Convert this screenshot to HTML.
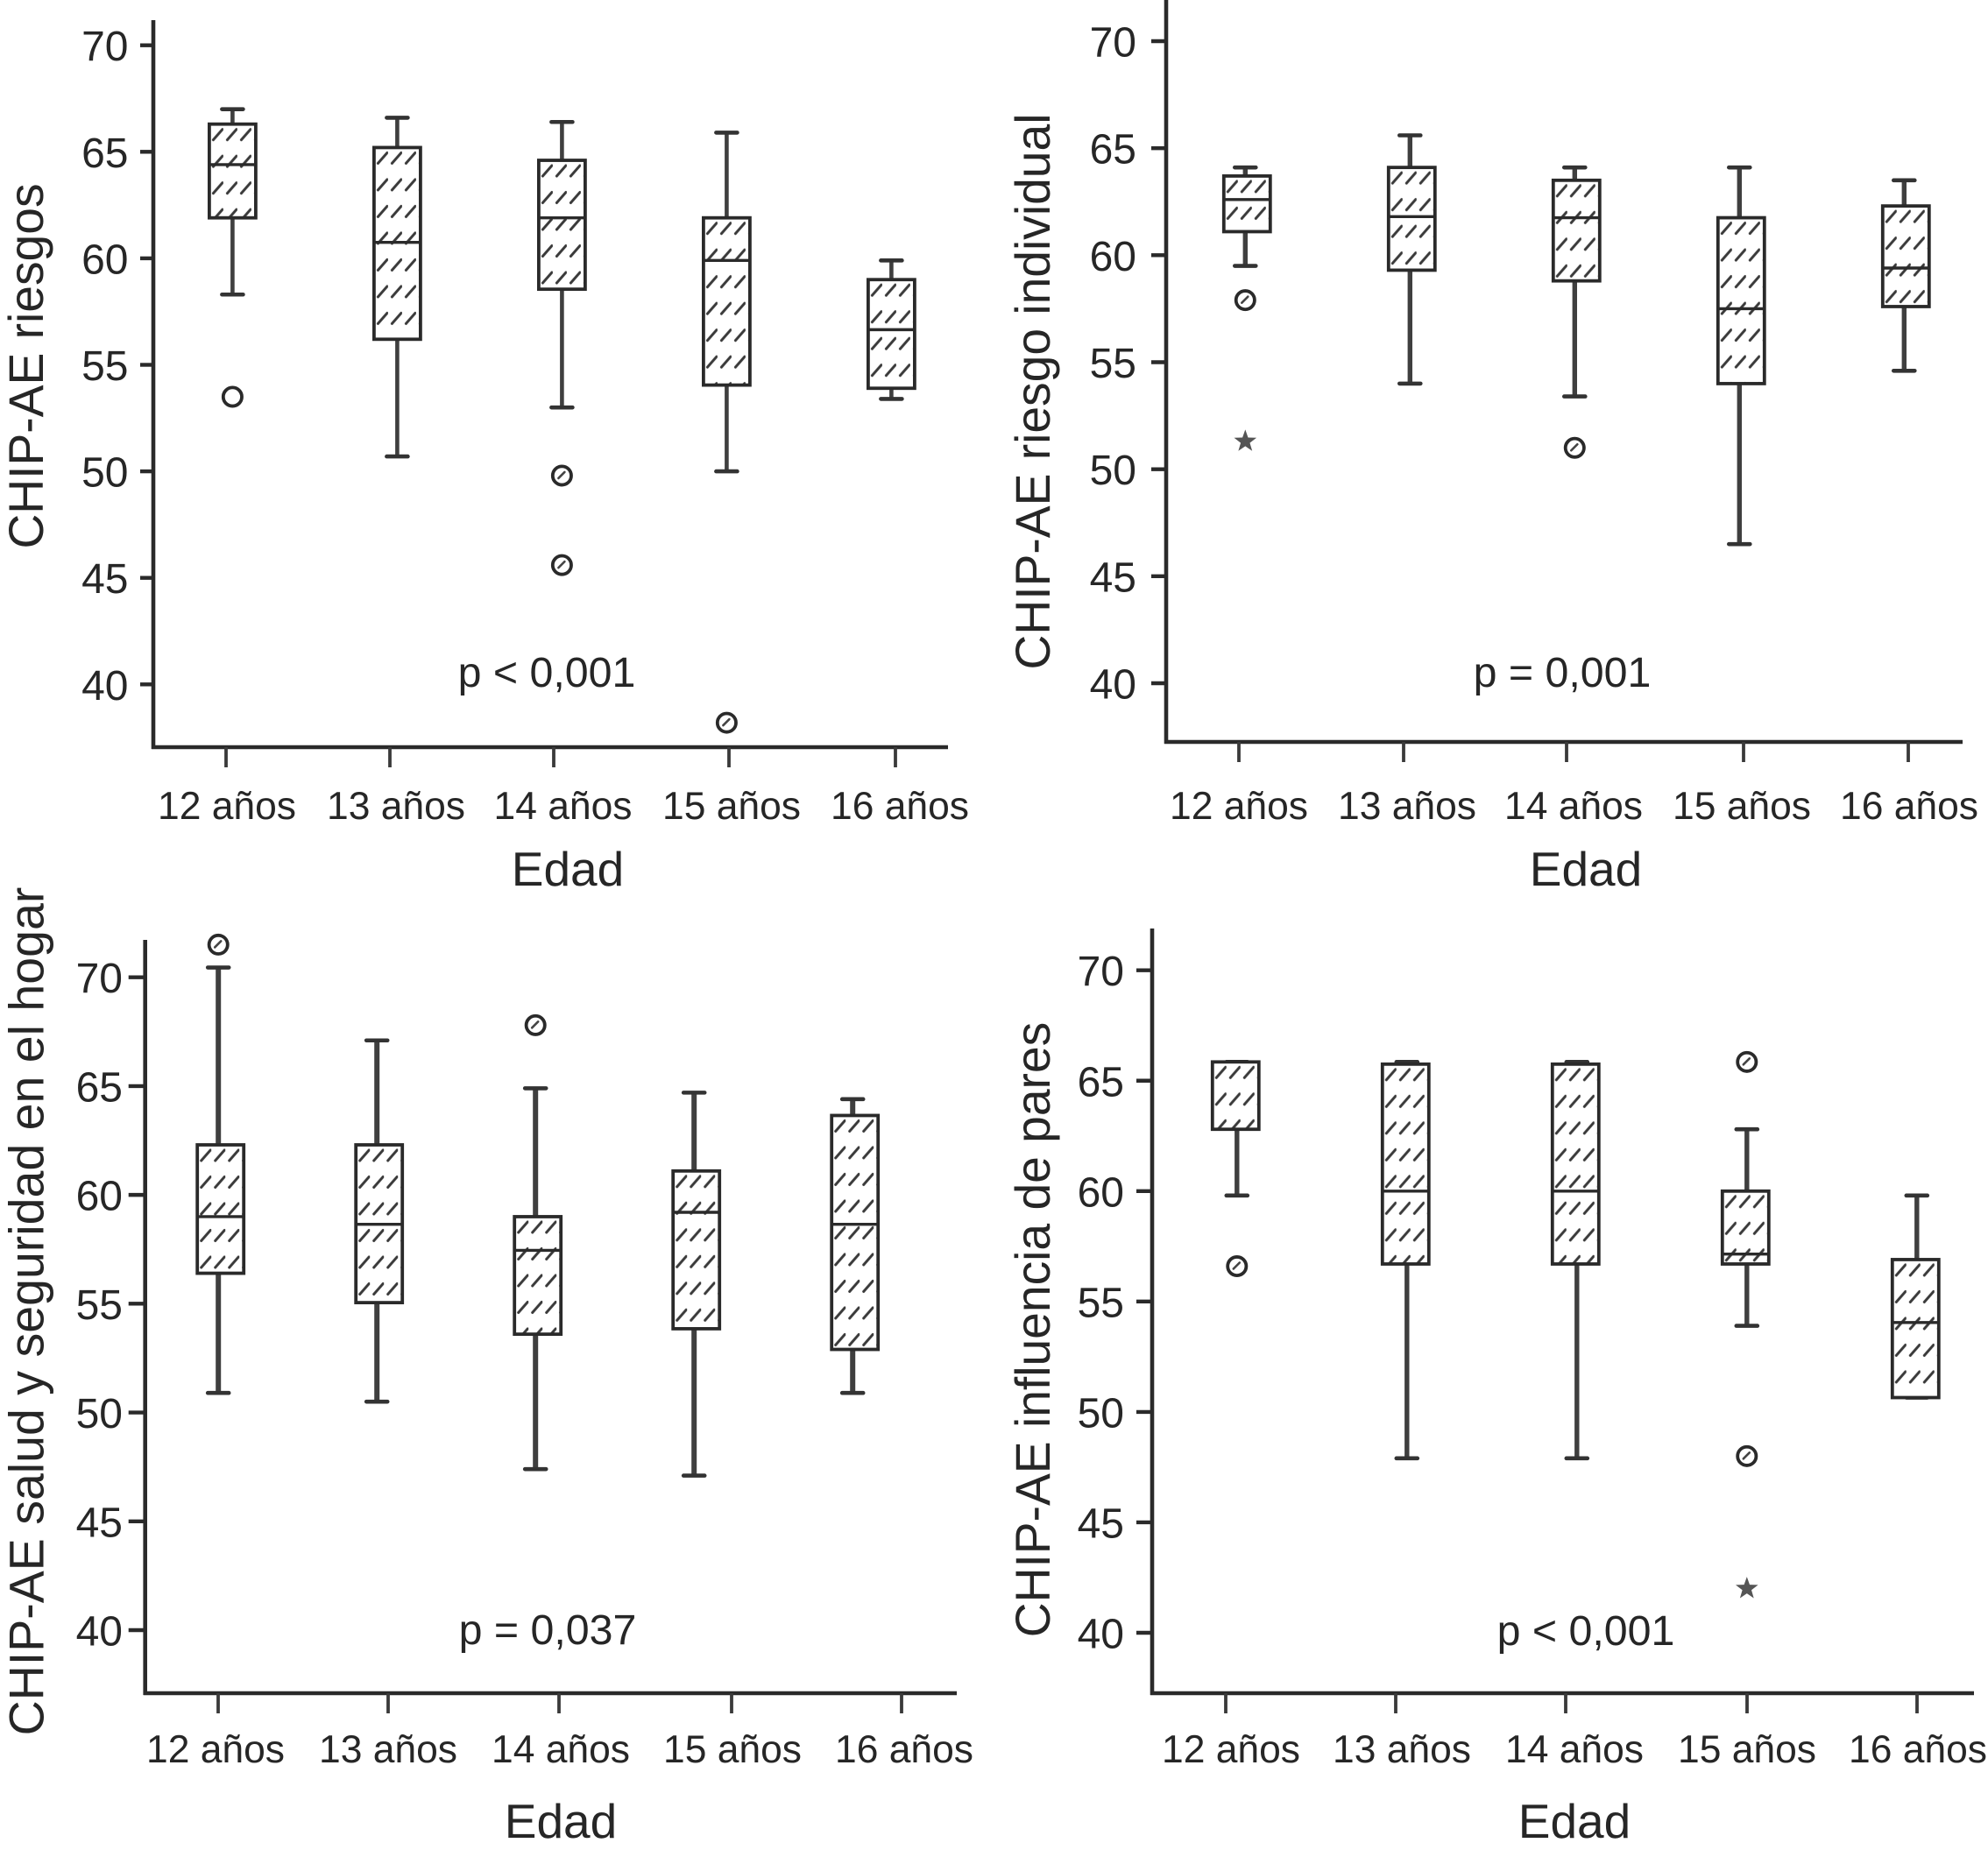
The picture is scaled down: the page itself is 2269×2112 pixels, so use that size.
<!DOCTYPE html>
<html lang="es">
<head>
<meta charset="utf-8">
<title>CHIP-AE por edad</title>
<style>
html,body{margin:0;padding:0;background:#fff;}
svg{display:block;}
text{font-family:"Liberation Sans",sans-serif;fill:#262626;}
</style>
</head>
<body>
<svg id="chart" xmlns="http://www.w3.org/2000/svg" width="2269" height="2112" viewBox="0 0 2269 2112">
  <defs id="defs"></defs>
</svg>
<script>
const categories = ['12 años', '13 años', '14 años', '15 años', '16 años'];
const yTickValues = [40, 45, 50, 55, 60, 65, 70];

const riesgosHigh = [67.0, 66.6, 66.4, 65.9, 59.9];
const riesgosQ3 = [66.3, 65.2, 64.6, 61.9, 59.0];
const riesgosMedian = [64.4, 60.75, 61.9, 59.9, 56.65];
const riesgosQ1 = [61.9, 56.2, 58.55, 54.05, 53.9];
const riesgosLow = [58.3, 50.7, 53.0, 50.0, 53.4];
const riesgosOutlierCat = [0, 2, 2, 3];
const riesgosOutlierVal = [53.5, 49.8, 45.6, 38.2];
const riesgosStarCat = [];
const riesgosStarVal = [];

const individualHigh = [64.1, 65.6, 64.1, 64.1, 63.5];
const individualQ3 = [63.7, 64.1, 63.5, 61.75, 62.3];
const individualMedian = [62.6, 61.8, 61.75, 57.5, 59.4];
const individualQ1 = [61.1, 59.3, 58.8, 54.0, 57.6];
const individualLow = [59.5, 54.0, 53.4, 46.5, 54.6];
const individualOutlierCat = [0, 2];
const individualOutlierVal = [57.9, 51.0];
const individualStarCat = [0];
const individualStarVal = [51.3];

const hogarHigh = [70.45, 67.1, 64.9, 64.7, 64.4];
const hogarQ3 = [62.3, 62.3, 59.0, 61.1, 63.65];
const hogarMedian = [59.0, 58.65, 57.45, 59.2, 58.65];
const hogarQ1 = [56.4, 55.05, 53.6, 53.85, 52.9];
const hogarLow = [50.9, 50.5, 47.4, 47.1, 50.9];
const hogarOutlierCat = [0, 2];
const hogarOutlierVal = [71.5, 67.8];
const hogarStarCat = [];
const hogarStarVal = [];

const paresHigh = [65.85, 65.85, 65.85, 62.8, 59.8];
const paresQ3 = [65.85, 65.75, 65.75, 60.0, 56.9];
const paresMedian = [65.85, 60.0, 60.0, 57.15, 54.05];
const paresQ1 = [62.8, 56.7, 56.7, 56.7, 50.65];
const paresLow = [59.8, 47.9, 47.9, 53.9, 50.65];
const paresOutlierCat = [0, 3, 3];
const paresOutlierVal = [56.6, 65.85, 48.0];
const paresStarCat = [3];
const paresStarVal = [42.0];

const svg = document.getElementById('chart');
const defs = document.getElementById('defs');
const NS = 'http://www.w3.org/2000/svg';
const INK = '#2a2a2a';

function make(tag, attrs, parent) {
  const node = document.createElementNS(NS, tag);
  for (const key in attrs) node.setAttribute(key, attrs[key]);
  parent.appendChild(node);
  return node;
}

let hatchCount = 0;
function hatchFor(left, top) {
  hatchCount += 1;
  const id = 'hatch-' + hatchCount;
  const p = make('pattern', {
    id: id, patternUnits: 'userSpaceOnUse', width: 16, height: 30.5,
    patternTransform: 'translate(' + left + ' ' + top + ')'
  }, defs);
  make('line', {
    x1: 4.5, y1: 18, x2: 15, y2: 6, stroke: '#3a3a3a', 'stroke-width': 3, 'stroke-linecap': 'round'
  }, p);
  return id;
}

function drawPanel(cfg) {
  const g = make('g', {}, svg);
  
  

  const y = function (v) {
    return cfg.y40 + (v - 40) * (cfg.y70 - cfg.y40) / 30;
  };
  const x = function (i) {
    return cfg.boxStart + i * cfg.boxStep;
  };

  const yAxis = make('line', {
    x1: cfg.left, y1: cfg.top, x2: cfg.left, y2: cfg.bottom + 2,
    stroke: INK, 'stroke-width': 4.6
  }, g);
  
  

  const xAxis = make('line', {
    x1: cfg.left - 2, y1: cfg.bottom, x2: cfg.right, y2: cfg.bottom,
    stroke: INK, 'stroke-width': 4.6
  }, g);
  
  

  yTickValues.forEach(function (v) {
    const tick = make('line', {
      x1: cfg.left - cfg.tickLen, y1: y(v), x2: cfg.left, y2: y(v),
      stroke: INK, 'stroke-width': 4.4
    }, g);
    
    

    const label = make('text', {
      x: cfg.yLabelRight, y: y(v) + 17.5, 'text-anchor': 'end', 'font-size': 48
    }, g);
    label.textContent = String(v);
    
    
  });

  categories.forEach(function (c, i) {
    const tick = make('line', {
      x1: cfg.tickX[i], y1: cfg.bottom, x2: cfg.tickX[i], y2: cfg.bottom + 23,
      stroke: '#3a3a3a', 'stroke-width': 3.8
    }, g);
    
    

    const label = make('text', {
      x: cfg.labelX[i], y: cfg.labelBase, 'text-anchor': 'middle', 'font-size': 44.4
    }, g);
    label.textContent = c;
    
    

    const cx = x(i);
    const wx = cx + cfg.whiskerShift;
    const hw = 26.5;
    const top = y(cfg.q3[i]);
    const bot = y(cfg.q1[i]);

    const upper = make('line', {
      x1: wx, y1: y(cfg.high[i]), x2: wx, y2: top, stroke: '#3f3f3f', 'stroke-width': cfg.whisker
    }, g);
    
    

    const lower = make('line', {
      x1: wx, y1: bot, x2: wx, y2: y(cfg.low[i]), stroke: '#3f3f3f', 'stroke-width': cfg.whisker
    }, g);
    
    

    const capHigh = make('line', {
      x1: wx - 12, y1: y(cfg.high[i]), x2: wx + 12, y2: y(cfg.high[i]),
      stroke: '#333', 'stroke-width': 4.6, 'stroke-linecap': 'round'
    }, g);
    
    

    const capLow = make('line', {
      x1: wx - 12, y1: y(cfg.low[i]), x2: wx + 12, y2: y(cfg.low[i]),
      stroke: '#333', 'stroke-width': 4.6, 'stroke-linecap': 'round'
    }, g);
    
    

    const box = make('rect', {
      x: cx - hw, y: top, width: hw * 2, height: bot - top,
      fill: '#fff'
    }, g);
    
    

    const hatched = make('rect', {
      x: cx - hw, y: top, width: hw * 2, height: bot - top,
      fill: 'url(#' + hatchFor(cx - hw, top) + ')', stroke: INK, 'stroke-width': 3.8
    }, g);
    
    

    const median = make('line', {
      x1: cx - hw, y1: y(cfg.median[i]), x2: cx + hw, y2: y(cfg.median[i]),
      stroke: INK, 'stroke-width': 3.4
    }, g);
    
    
  });

  cfg.outlierCat.forEach(function (cat, k) {
    const ox = x(cat) + cfg.whiskerShift;
    const oy = y(cfg.outlierVal[k]);
    const dot = make('circle', {
      cx: ox, cy: oy, r: 10.6,
      fill: '#fff', stroke: INK, 'stroke-width': 3.8
    }, g);
    
    

    if (!(cfg.plainFirstOutlier && k === 0)) {
      const slash = make('line', {
        x1: ox - 4, y1: oy + 3, x2: ox + 3, y2: oy - 4,
        stroke: '#444', 'stroke-width': 2.6, 'stroke-linecap': 'round'
      }, g);
      
      
    }
  });

  cfg.starCat.forEach(function (cat, k) {
    const cx = x(cat) + cfg.whiskerShift;
    const cy = y(cfg.starVal[k]);
    const pts = [];
    for (let n = 0; n < 10; n++) {
      const r = n % 2 === 0 ? 13.5 : 5.5;
      const a = -Math.PI / 2 + n * Math.PI / 5;
      pts.push((cx + r * Math.cos(a)).toFixed(1) + ',' + (cy + r * Math.sin(a)).toFixed(1));
    }
    const star = make('polygon', { points: pts.join(' '), fill: '#555' }, g);
    
    
  });

  const pText = make('text', {
    x: cfg.pX, y: cfg.pBase, 'text-anchor': 'middle', 'font-size': 48.3
  }, g);
  pText.textContent = cfg.pLabel;
  
  

  const xTitle = make('text', {
    x: cfg.xTitleX, y: cfg.xTitleBase, 'text-anchor': 'middle', 'font-size': 55
  }, g);
  xTitle.textContent = 'Edad';
  
  

  const yTitle = make('text', {
    x: 0, y: 0, 'text-anchor': 'middle', 'font-size': cfg.titleSize,
    transform: 'translate(' + cfg.yTitleX + ' ' + cfg.yTitleY + ') rotate(-90)'
  }, g);
  yTitle.textContent = cfg.yTitle;
  
  
}

drawPanel({
  name: 'panel-riesgos', yTitle: 'CHIP-AE riesgos', pLabel: 'p < 0,001', titleSize: 55.2,
  high: riesgosHigh, q3: riesgosQ3, median: riesgosMedian, q1: riesgosQ1, low: riesgosLow,
  outlierCat: riesgosOutlierCat, outlierVal: riesgosOutlierVal, starCat: riesgosStarCat, starVal: riesgosStarVal,
  plainFirstOutlier: true,
  left: 175, right: 1082, top: 23, bottom: 853, y70: 51.7, y40: 781.3, yLabelRight: 146.5, tickLen: 15, whisker: 4.6,
  boxStart: 265.4, boxStep: 188, whiskerShift: 0,
  tickX: [258, 445, 632, 832, 1022], labelX: [259, 452, 642.5, 835, 1027], labelBase: 935,
  pX: 624, pBase: 784, xTitleX: 648, xTitleBase: 1011, yTitleX: 49, yTitleY: 418
});

drawPanel({
  name: 'panel-riesgo-individual', yTitle: 'CHIP-AE riesgo individual', pLabel: 'p = 0,001', titleSize: 55.2,
  high: individualHigh, q3: individualQ3, median: individualMedian, q1: individualQ1, low: individualLow,
  outlierCat: individualOutlierCat, outlierVal: individualOutlierVal, starCat: individualStarCat, starVal: individualStarVal,
  plainFirstOutlier: false,
  left: 1331, right: 2240, top: 0, bottom: 847, y70: 47, y40: 780, yLabelRight: 1297, tickLen: 17, whisker: 5.4,
  boxStart: 1423.3, boxStep: 188, whiskerShift: -2,
  tickX: [1414, 1602, 1788, 1990, 2178], labelX: [1414, 1606, 1796, 1988, 2179], labelBase: 935,
  pX: 1783, pBase: 784, xTitleX: 1810, xTitleBase: 1011, yTitleX: 1198, yTitleY: 447
});

drawPanel({
  name: 'panel-salud-seguridad-hogar', yTitle: 'CHIP-AE salud y seguridad en el hogar', pLabel: 'p = 0,037', titleSize: 55.5,
  high: hogarHigh, q3: hogarQ3, median: hogarMedian, q1: hogarQ1, low: hogarLow,
  outlierCat: hogarOutlierCat, outlierVal: hogarOutlierVal, starCat: hogarStarCat, starVal: hogarStarVal,
  plainFirstOutlier: false,
  left: 165.7, right: 1092, top: 1073, bottom: 1933, y70: 1115.7, y40: 1861, yLabelRight: 140, tickLen: 19, whisker: 6,
  boxStart: 251.7, boxStep: 181, whiskerShift: -2.5,
  tickX: [249, 443, 638, 835, 1029], labelX: [246, 443, 640, 836, 1032], labelBase: 2012,
  pX: 625, pBase: 1877, xTitleX: 640, xTitleBase: 2098, yTitleX: 49.5, yTitleY: 1497
});

drawPanel({
  name: 'panel-influencia-pares', yTitle: 'CHIP-AE influencia de pares', pLabel: 'p < 0,001', titleSize: 55.2,
  high: paresHigh, q3: paresQ3, median: paresMedian, q1: paresQ1, low: paresLow,
  outlierCat: paresOutlierCat, outlierVal: paresOutlierVal, starCat: paresStarCat, starVal: paresStarVal,
  plainFirstOutlier: false,
  left: 1315, right: 2253, top: 1060, bottom: 1933, y70: 1107.7, y40: 1864, yLabelRight: 1283, tickLen: 18, whisker: 5.4,
  boxStart: 1410.3, boxStep: 194, whiskerShift: 1.5,
  tickX: [1399, 1593, 1787, 1994, 2188], labelX: [1405, 1600, 1797, 1994, 2189], labelBase: 2012,
  pX: 1810, pBase: 1878, xTitleX: 1797, xTitleBase: 2098, yTitleX: 1198, yTitleY: 1518
});
</script>
</body>
</html>
